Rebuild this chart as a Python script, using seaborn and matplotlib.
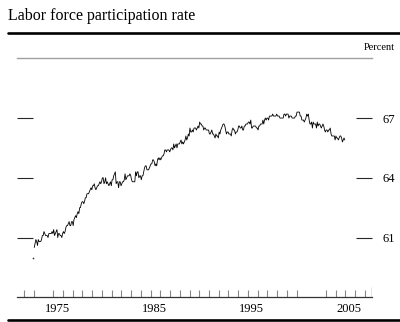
import numpy as np
import pandas as pd
import matplotlib
matplotlib.use("Agg")
import matplotlib.pyplot as plt
from matplotlib.lines import Line2D
import seaborn as sns

# Civilian labor force participation rate, monthly, percent
rate_1970s = [  # Jan 1973 - Dec 1979
    60.5, 60.7, 60.9, 60.8, 60.6, 60.9, 60.8, 60.8, 60.8, 60.9, 61.1, 61.1,
    61.3, 61.2, 61.1, 61.1, 61.1, 61.0, 61.2, 61.2, 61.2, 61.2, 61.3, 61.2,
    61.4, 61.1, 61.2, 61.3, 61.4, 61.0, 61.2, 61.2, 61.1, 61.1, 61.0, 61.2,
    61.3, 61.2, 61.3, 61.5, 61.6, 61.6, 61.7, 61.8, 61.6, 61.6, 61.8, 61.8,
    61.6, 61.9, 62.0, 62.1, 62.0, 62.2, 62.3, 62.2, 62.5, 62.5, 62.7, 62.8,
    62.8, 62.7, 62.8, 63.0, 63.0, 63.2, 63.2, 63.2, 63.3, 63.4, 63.5, 63.4,
    63.6, 63.6, 63.7, 63.5, 63.4, 63.5, 63.6, 63.6, 63.7, 63.8, 63.7, 63.8,
]
rate_1980s = [
    64.0, 64.0, 63.7, 63.8, 64.0, 63.7, 63.8, 63.7, 63.6, 63.7, 63.8, 63.6,
    63.9, 63.9, 64.1, 64.2, 64.3, 63.7, 63.8, 63.8, 63.5, 63.8, 63.8, 63.6,
    63.7, 63.8, 63.8, 63.9, 64.2, 63.9, 64.0, 64.1, 64.1, 64.1, 64.2, 64.1,
    63.9, 63.8, 63.8, 63.8, 63.8, 64.3, 64.1, 64.3, 64.3, 64.0, 64.1, 64.1,
    63.9, 64.1, 64.1, 64.3, 64.5, 64.6, 64.6, 64.4, 64.4, 64.4, 64.5, 64.6,
    64.7, 64.7, 64.9, 64.9, 64.8, 64.6, 64.7, 64.6, 64.9, 65.0, 64.9, 65.0,
    64.9, 65.0, 65.1, 65.1, 65.2, 65.4, 65.4, 65.3, 65.4, 65.4, 65.4, 65.3,
    65.4, 65.5, 65.5, 65.4, 65.7, 65.5, 65.6, 65.7, 65.5, 65.7, 65.7, 65.7,
    65.8, 65.9, 65.7, 65.8, 65.7, 65.8, 65.9, 66.1, 65.9, 66.0, 66.2, 66.1,
    66.5, 66.3, 66.3, 66.4, 66.3, 66.5, 66.5, 66.5, 66.4, 66.5, 66.6, 66.5,
]
rate_1990s = [
    66.8, 66.7, 66.7, 66.6, 66.6, 66.4, 66.5, 66.5, 66.4, 66.4, 66.4, 66.4,
    66.2, 66.2, 66.3, 66.4, 66.2, 66.2, 66.1, 66.0, 66.2, 66.1, 66.1, 66.0,
    66.3, 66.2, 66.4, 66.5, 66.6, 66.7, 66.7, 66.6, 66.4, 66.2, 66.3, 66.3,
    66.2, 66.2, 66.2, 66.1, 66.4, 66.5, 66.4, 66.4, 66.2, 66.3, 66.3, 66.4,
    66.6, 66.6, 66.5, 66.5, 66.6, 66.4, 66.4, 66.6, 66.6, 66.7, 66.7, 66.7,
    66.8, 66.8, 66.7, 66.9, 66.5, 66.5, 66.6, 66.6, 66.6, 66.6, 66.5, 66.5,
    66.4, 66.6, 66.6, 66.7, 66.7, 66.7, 66.9, 66.7, 66.9, 67.0, 66.9, 67.0,
    67.0, 66.9, 67.1, 67.1, 67.1, 67.1, 67.2, 67.1, 67.1, 67.1, 67.1, 67.2,
    67.1, 67.1, 67.1, 67.0, 67.0, 67.0, 67.0, 67.0, 67.2, 67.2, 67.1, 67.2,
    67.2, 67.2, 67.0, 67.1, 67.1, 67.1, 67.0, 67.0, 67.0, 67.0, 67.1, 67.1,
]
rate_2000s = [
    67.3, 67.3, 67.3, 67.3, 67.1, 67.1, 66.9, 66.9, 66.9, 66.8, 66.9, 67.0,
    67.2, 67.1, 67.2, 66.9, 66.7, 66.7, 66.8, 66.5, 66.8, 66.7, 66.7, 66.7,
    66.5, 66.8, 66.6, 66.7, 66.7, 66.6, 66.5, 66.6, 66.7, 66.6, 66.4, 66.3,
    66.4, 66.4, 66.3, 66.4, 66.4, 66.5, 66.2, 66.1, 66.1, 66.1, 66.1, 65.9,
    66.1, 66.0, 66.0, 65.9, 66.0, 66.1, 66.1, 66.0, 65.8, 65.9, 66.0, 65.9,
]
first_year = 1973

# isolated observation drawn as a lone dot before the series
lone_x = [1972.95]
lone_y = [59.95]

# axis annotations
year_ticks = [1972, 1973, 1975, 1976, 1977, 1978, 1979, 1980, 1981, 1982,
              1983, 1984, 1985, 1986, 1987, 1988, 1989, 1990, 1991, 1992,
              1993, 1994, 1995, 1996, 1997, 1998, 1999, 2000, 2003, 2004,
              2005, 2006, 2007]
year_labels = ["1975", "1985", "1995", "2005"]
pct_ticks = [61, 64, 67]
title = "Labor force participation rate"
unit = "Percent"

values = rate_1970s + rate_1980s + rate_1990s + rate_2000s
months = np.arange(len(values))
df = pd.DataFrame({
    "date": first_year + (months + 0.5) / 12.0,
    "rate": values,
})

sns.set_style("white")
plt.rcParams["font.family"] = ["Liberation Serif", "DejaVu Serif"]

fig = plt.figure(figsize=(4.0, 3.22), dpi=100)
ax = fig.add_axes([17 / 400, 1 - 297.3 / 322, 355 / 400, 239 / 322])

sns.lineplot(data=df, x="date", y="rate", ax=ax, color="black",
             linewidth=0.6, estimator=None)
ax.scatter(lone_x, lone_y, s=1.5, color="#333333", linewidths=0)

ax.set_xlim(1971.27, 2007.75)
ax.set_ylim(58, 70)
ax.set_xlabel("")
ax.set_ylabel("")

# spines: grey rule on top, dark baseline at the bottom
for side in ("left", "right"):
    ax.spines[side].set_visible(False)
ax.spines["top"].set_color("#a0a0a0")
ax.spines["top"].set_linewidth(1.0)
ax.spines["bottom"].set_color("#333333")
ax.spines["bottom"].set_linewidth(0.9)

# x axis: a tick at each year boundary, labels centred on the year
ax.set_xticks(year_ticks)
ax.set_xticklabels([])
ax.set_xticks([int(y) + 0.4 for y in year_labels], minor=True)
ax.set_xticklabels(year_labels, minor=True)
ax.tick_params(axis="x", which="major", direction="in", length=5,
               width=0.8, color="#888888", bottom=True, top=False)
ax.tick_params(axis="x", which="minor", length=0, pad=4, labelsize=9,
               labelcolor="black")
ax.axvline(2007.75, ymin=0, ymax=10 / 239, color="#444444", lw=0.9)

# y axis: short inward ticks on both sides, labels on the right
ax.set_yticks(pct_ticks)
ax.set_yticklabels([str(v) for v in pct_ticks])
ax.tick_params(axis="y", which="major", direction="in", length=11.8,
               width=0.8, left=True, right=True, labelleft=False,
               labelright=True, pad=7.5, labelsize=9, labelcolor="black")
for t in ax.yaxis.get_major_ticks():
    c = "#444444" if t.get_loc() == 67 else "#9a9a9a"
    t.tick1line.set_color(c)
    t.tick2line.set_color(c)
ax.grid(False)

# title, unit and heavy rules framing the panel
fig.text(8 / 400, 1 - 20 / 322, title, fontsize=11.5, va="baseline",
         ha="left", color="black")
fig.text(395 / 400, 1 - 50 / 322, unit, fontsize=7.5, va="baseline",
         ha="right", color="black")
fig.add_artist(Line2D([8 / 400, 1.0], [1 - 32.7 / 322] * 2, color="black",
                      lw=1.9, transform=fig.transFigure))
fig.add_artist(Line2D([8 / 400, 1.0], [1 - 319.5 / 322] * 2, color="black",
                      lw=1.9, transform=fig.transFigure))

fig.savefig("out.png", dpi=100, facecolor="white")
